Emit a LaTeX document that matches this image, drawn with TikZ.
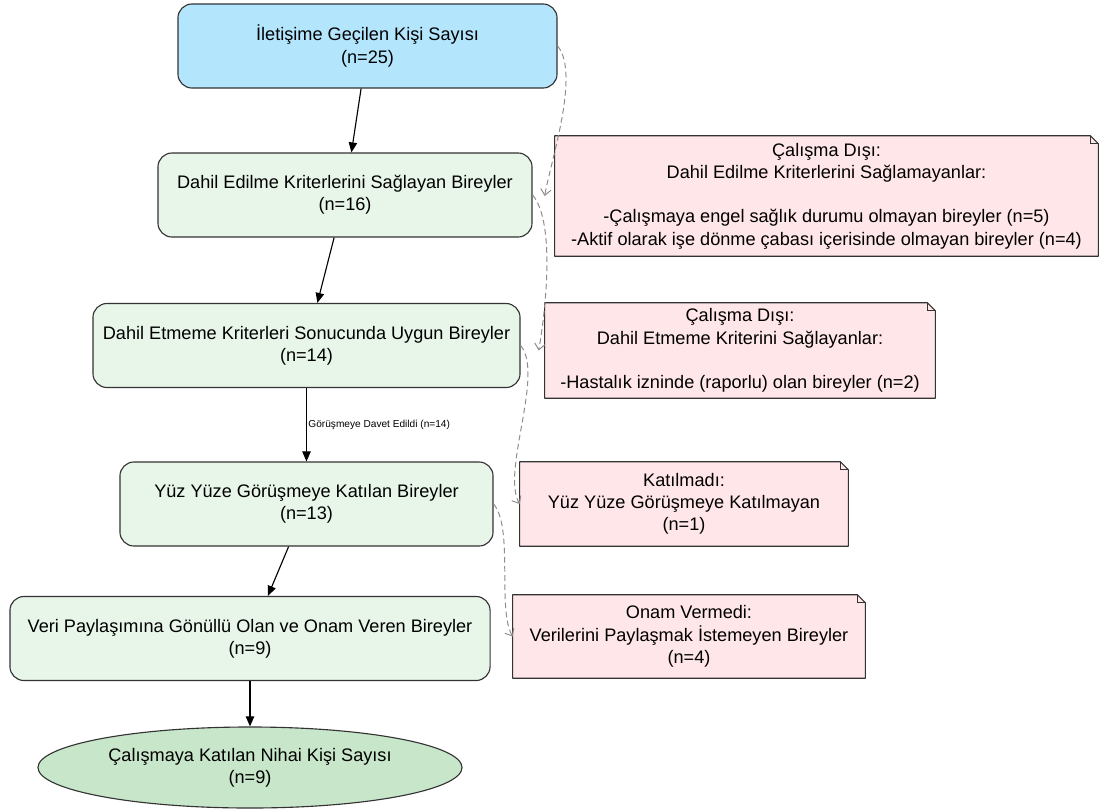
\documentclass[tikz,border=0pt]{standalone}
\usepackage{fontspec}
\setmainfont{Liberation Sans}
\usepackage{xcolor}
\usepackage{tikz}
\definecolor{startblue}{RGB}{179,229,252}
\definecolor{stepgreen}{RGB}{232,245,233}
\definecolor{endgreen}{RGB}{200,230,201}
\definecolor{notepink}{RGB}{255,230,233}
\definecolor{edgegray}{RGB}{51,51,51}
\definecolor{skipgray}{RGB}{140,140,140}
\usetikzlibrary{arrows.meta, shapes.geometric, backgrounds}

% note outline with a folded top right corner
\newcommand{\notefold}[1]{%
  \filldraw[fill=notepink, draw=edgegray, line width=0.8pt, line join=round]
    (#1.south west) -- (#1.south east) -- ([yshift=-0.2cm]#1.north east)
    -- ([xshift=-0.2cm]#1.north east) -- (#1.north west) -- cycle;
  \draw[edgegray, line width=0.8pt] ([xshift=-0.2cm]#1.north east) |- ([yshift=-0.2cm]#1.north east);}

\begin{document}
\begin{tikzpicture}[
  x=0.025cm, y=-0.025cm,
  flowbox/.style={draw=edgegray, line width=0.8pt, rounded corners=3.5mm, fill=stepgreen, align=center, minimum height=2.1cm, font=\fontsize{12.9}{15.8}\selectfont},
  startbox/.style={flowbox, fill=startblue},
  endbox/.style={ellipse, draw=edgegray, line width=0.8pt, fill=endgreen, align=center, inner sep=1pt, font=\fontsize{12.9}{15.8}\selectfont},
  notebox/.style={align=center, inner sep=0pt, font=\fontsize{12.9}{15.8}\selectfont},
  flow/.style={-{Triangle[length=2.5mm, width=2.1mm]}, line width=0.8pt},
  skip/.style={-{Straight Barb[length=1.5mm, width=2.6mm]}, skipgray, line width=0.7pt, dash pattern=on 4pt off 2.5pt, looseness=0.6}
]
  \useasboundingbox (0,0) rectangle (1107,811);

  % Main flow
  \node[startbox, minimum width=9.475cm] (contact)  at (367.5, 46)  {İletişime Geçilen Kişi Sayısı\\(n=25)};
  \node[flowbox, minimum width=9.35cm]   (eligible) at (345, 195)   {Dahil Edilme Kriterlerini Sağlayan Bireyler\\(n=16)};
  \node[flowbox, minimum width=10.675cm] (suitable) at (306.5, 345.5) {Dahil Etmeme Kriterleri Sonucunda Uygun Bireyler\\(n=14)};
  \node[flowbox, minimum width=9.325cm]  (attended) at (306.5, 504) {Yüz Yüze Görüşmeye Katılan Bireyler\\(n=13)};
  \node[flowbox, minimum width=12cm]     (consent)  at (250, 638.5) {Veri Paylaşımına Gönüllü Olan ve Onam Veren Bireyler\\(n=9)};
  \node[endbox, minimum width=10.6cm, minimum height=2.025cm] (final) at (250, 767.5) {Çalışmaya Katılan Nihai Kişi Sayısı\\(n=9)};

  % Exclusion notes
  \node[notebox, minimum width=13.575cm, minimum height=3cm] (excl1) at (826.5, 196) {Çalışma Dışı:\\Dahil Edilme Kriterlerini Sağlamayanlar:\\~\\-Çalışmaya engel sağlık durumu olmayan bireyler (n=5)\\-Aktif olarak işe dönme çabası içerisinde olmayan bireyler (n=4)};
  \node[notebox, minimum width=9.75cm, minimum height=2.375cm] (excl2) at (740, 350.5) {Çalışma Dışı:\\Dahil Etmeme Kriterini Sağlayanlar:\\~\\-Hastalık izninde (raporlu) olan bireyler (n=2)};
  \node[notebox, minimum width=8.2cm, minimum height=2.1cm] (excl3) at (684, 504) {Katılmadı:\\Yüz Yüze Görüşmeye Katılmayan\\(n=1)};
  \node[notebox, minimum width=8.8cm, minimum height=2.075cm] (excl4) at (689, 636.5) {Onam Vermedi:\\Verilerini Paylaşmak İstemeyen Bireyler\\(n=4)};

  \begin{scope}[on background layer]
    \notefold{excl1}
    \notefold{excl2}
    \notefold{excl3}
    \notefold{excl4}
  \end{scope}

  % Solid arrows
  \draw[flow] (contact) -- (eligible);
  \draw[flow] (eligible) -- (suitable);
  \draw[flow] (suitable) -- node[right, inner sep=1pt, font=\fontsize{7.2}{9}\selectfont] {Görüşmeye Davet Edildi (n=14)} (attended);
  \draw[flow] (attended) -- (consent);
  \draw[flow] (consent) -- (final);

  % Dashed side arrows
  \draw[skip] (contact.east) to[out=-50, in=80] ([xshift=-0.25cm]excl1.west);
  \draw[skip] (eligible.east) to[out=-50, in=80] ([xshift=-0.15cm]excl2.west);
  \draw[skip] (suitable.east) to[out=-50, in=120] (excl3.west);
  \draw[skip] (attended.east) to[out=-50, in=120] (excl4.west);

\end{tikzpicture}
\end{document}
